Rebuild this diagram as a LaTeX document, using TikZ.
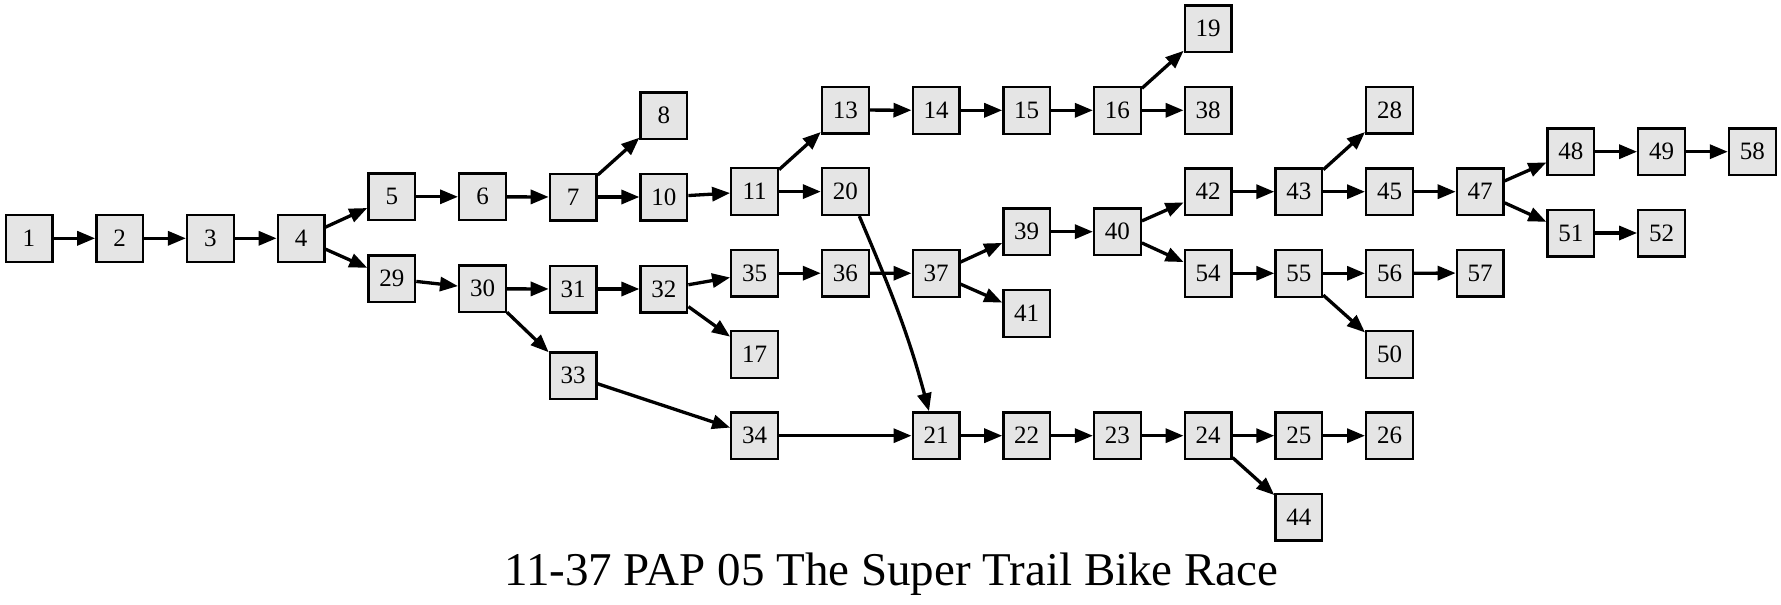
\documentclass[tikz,border=0pt]{standalone}
\usepackage{fontspec}
\setmainfont{Liberation Serif}
\usetikzlibrary{arrows.meta}
\begin{document}
\begin{tikzpicture}[x=1pt,y=-1pt,
  bx/.style={draw=black,line width=2.3pt,fill=black!10,minimum width=46.7pt,minimum height=46.7pt,inner sep=0pt,font=\fontsize{25}{26}\selectfont},
  ar/.style={line width=3.3pt,-{Triangle[length=18pt,width=14pt]}}]
\useasboundingbox (0,0) rectangle (1781,605);
% columns
\def\ca{29}\def\cb{119.7}\def\cc{210.4}\def\cd{301.1}\def\ce{391.8}
\def\cf{482.5}\def\cg{573.2}\def\ch{663.9}\def\ci{754.6}\def\cj{845.3}
\def\ck{936}\def\cl{1026.7}\def\cm{1117.4}\def\cn{1208.1}\def\co{1298.8}
\def\cp{1389.5}\def\cq{1480.2}\def\cr{1570.9}\def\cs{1661.6}\def\ct{1752.3}
\node[bx] (n1) at (\ca,238.3) {1};
\node[bx] (n2) at (\cb,238.3) {2};
\node[bx] (n3) at (\cc,238.3) {3};
\node[bx] (n4) at (\cd,238.3) {4};
\node[bx] (n5) at (\ce,196.8) {5};
\node[bx] (n29) at (\ce,278.7) {29};
\node[bx] (n6) at (\cf,196.8) {6};
\node[bx] (n30) at (\cf,288.8) {30};
\node[bx] (n7) at (\cg,197) {7};
\node[bx] (n31) at (\cg,289) {31};
\node[bx] (n33) at (\cg,375.7) {33};
\node[bx] (n8) at (\ch,115.7) {8};
\node[bx] (n10) at (\ch,197) {10};
\node[bx] (n32) at (\ch,289) {32};
\node[bx] (n11) at (\ci,191.6) {11};
\node[bx] (n35) at (\ci,273.2) {35};
\node[bx] (n17) at (\ci,354.3) {17};
\node[bx] (n34) at (\ci,435.7) {34};
\node[bx] (n13) at (\cj,110) {13};
\node[bx] (n20) at (\cj,191.6) {20};
\node[bx] (n36) at (\cj,273.2) {36};
\node[bx] (n14) at (\ck,110.3) {14};
\node[bx] (n37) at (\ck,273.3) {37};
\node[bx] (n21) at (\ck,435.7) {21};
\node[bx] (n15) at (\cl,110.3) {15};
\node[bx] (n39) at (\cl,231.7) {39};
\node[bx] (n41) at (\cl,313.3) {41};
\node[bx] (n22) at (\cl,435.7) {22};
\node[bx] (n16) at (\cm,110.3) {16};
\node[bx] (n40) at (\cm,231.7) {40};
\node[bx] (n23) at (\cm,435.7) {23};
\node[bx] (n19) at (\cn,28.8) {19};
\node[bx] (n38) at (\cn,110.3) {38};
\node[bx] (n42) at (\cn,191.7) {42};
\node[bx] (n54) at (\cn,273.3) {54};
\node[bx] (n24) at (\cn,435.7) {24};
\node[bx] (n43) at (\co,191.7) {43};
\node[bx] (n55) at (\co,273.3) {55};
\node[bx] (n25) at (\co,435.7) {25};
\node[bx] (n44) at (\co,517) {44};
\node[bx] (n28) at (\cp,110) {28};
\node[bx] (n45) at (\cp,191.7) {45};
\node[bx] (n56) at (\cp,273.3) {56};
\node[bx] (n50) at (\cp,354.3) {50};
\node[bx] (n26) at (\cp,435.7) {26};
\node[bx] (n47) at (\cq,191.7) {47};
\node[bx] (n57) at (\cq,273) {57};
\node[bx] (n48) at (\cr,151.7) {48};
\node[bx] (n51) at (\cr,233) {51};
\node[bx] (n49) at (\cs,151.7) {49};
\node[bx] (n52) at (\cs,233) {52};
\node[bx] (n58) at (\ct,151.7) {58};
\foreach \a/\b in {1/2,2/3,3/4,4/5,4/29,5/6,6/7,7/8,7/10,10/11,11/13,11/20,13/14,14/15,15/16,16/19,16/38,29/30,30/31,30/33,31/32,32/35,32/17,35/36,36/37,37/39,37/41,39/40,40/42,40/54,42/43,43/28,43/45,45/47,47/48,47/51,48/49,49/58,51/52,54/55,55/56,55/50,56/57,33/34,34/21,21/22,22/23,23/24,24/25,24/44,25/26}
  \draw[ar] (n\a) -- (n\b);
\draw[ar] ([xshift=14pt]n20.south) to[out=-67,in=105] ([xshift=-7pt]n21.north);
\node[anchor=base,font=\fontsize{47}{50}\selectfont] (title) at (891.4,585) {11-37 PAP 05 The Super Trail Bike Race};
\end{tikzpicture}
\end{document}
